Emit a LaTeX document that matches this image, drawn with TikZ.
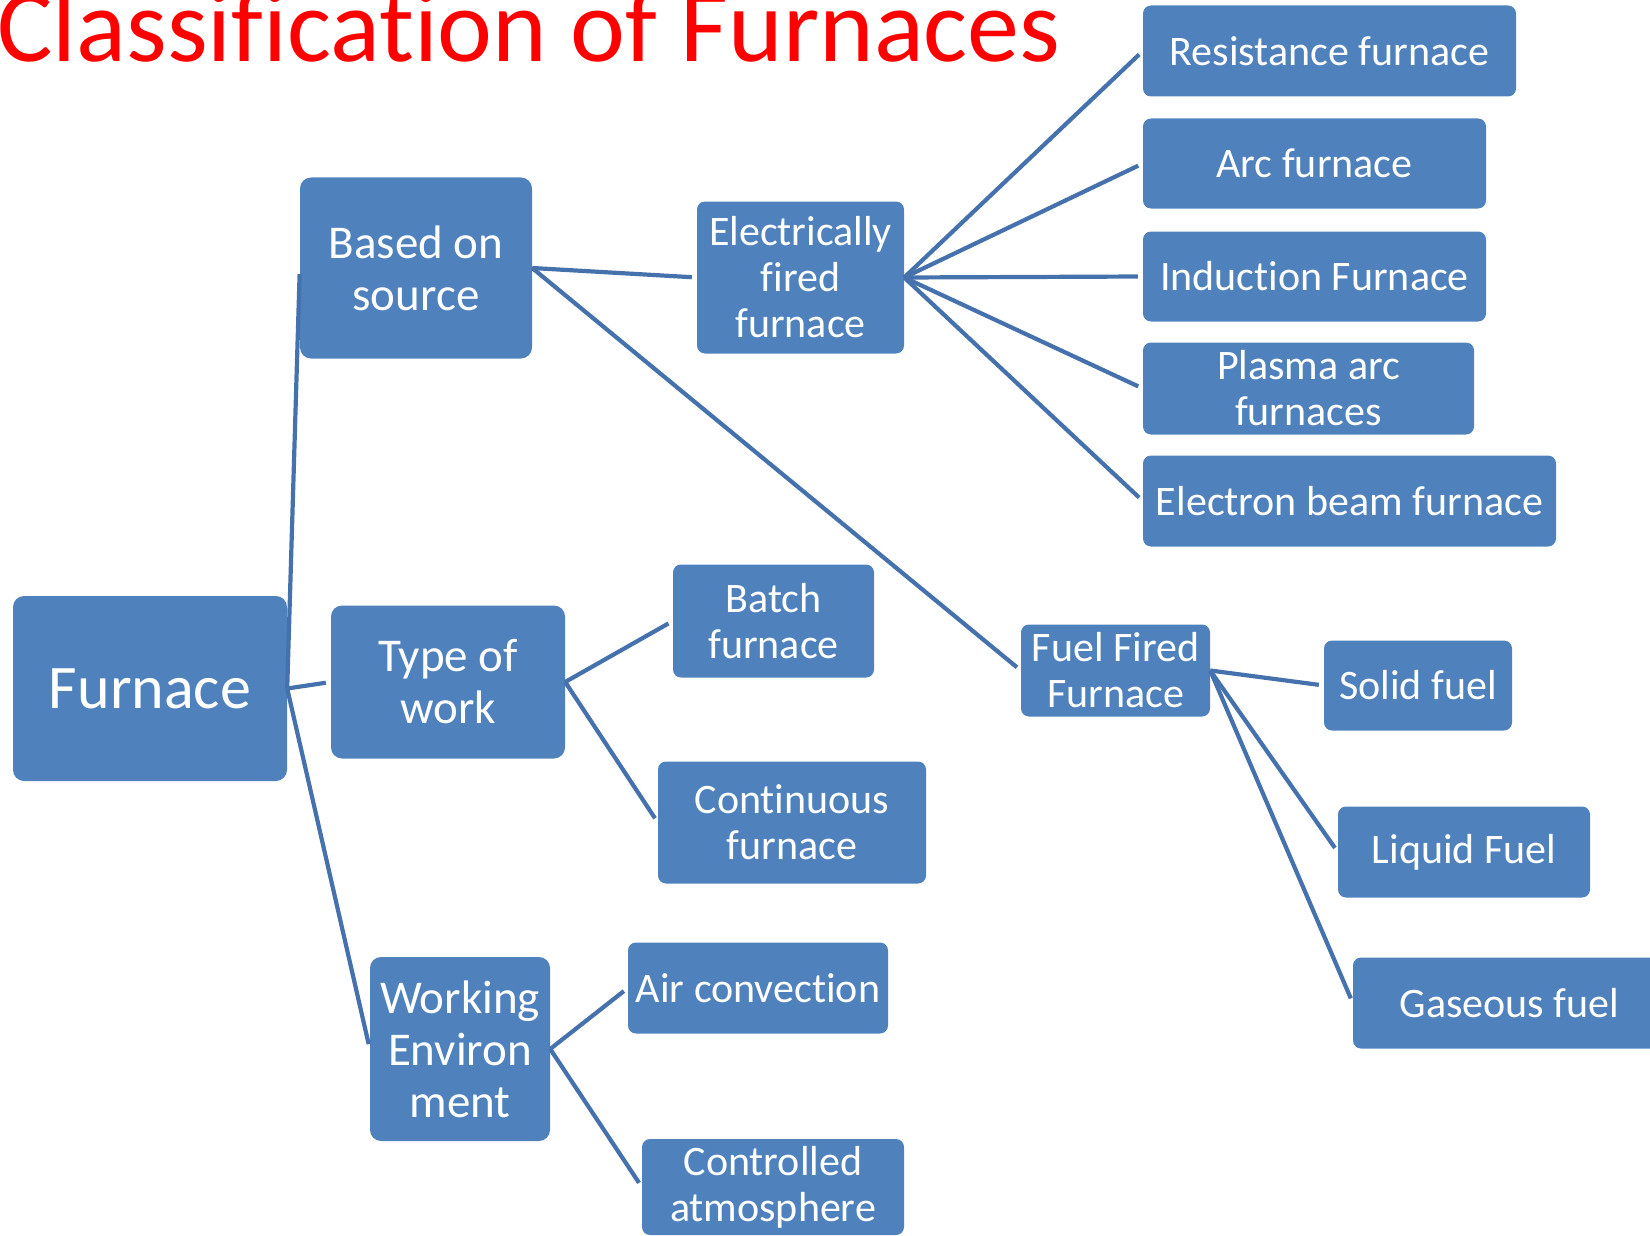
\documentclass[tikz,border=0pt]{standalone}
\usepackage{fontspec}
\setmainfont{Carlito}[Ligatures=NoCommon]
\newcommand{\nolig}{\kern0pt{}}
\definecolor{boxfill}{HTML}{4F81BD}
\definecolor{linec}{HTML}{4571AD}
\definecolor{titlered}{HTML}{FF0000}
\begin{document}
\begin{tikzpicture}[x=1pt,y=-1pt,
  box/.style={fill=boxfill, draw=none, text=white, align=center, inner sep=0pt, rounded corners=8pt},
  bigbox/.style={box, rounded corners=11pt},
  fa/.style={font=\fontsize{42}{46}\selectfont},
  fb/.style={font=\fontsize{47}{52}\selectfont},
  fc/.style={font=\fontsize{62}{68}\selectfont},
  conn/.style={draw=linec, line width=4.2pt, shorten >=5pt, line join=round}
]
\useasboundingbox (0,0) rectangle (1650,1236);
\clip (0,0) rectangle (1650,1236);

% title
\node[anchor=base east, inner sep=0pt, text=titlered, font=\fontsize{104}{110}\selectfont] (title) at (1061,62) {Classif\nolig icat\nolig ion of Furnaces};

% level 1
\node[bigbox, fc, minimum width=274pt, minimum height=185pt] (furnace) at (150,688.5) {Furnace};

% level 2
\node[bigbox, fb, minimum width=232pt, minimum height=181pt] (based) at (416,268) {Based on\\source};
\node[bigbox, fb, minimum width=234pt, minimum height=153pt] (type) at (448,682) {Type of\\work};
\node[bigbox, fb, minimum width=180pt, minimum height=184pt] (work) at (460,1049) {Working\\Environ\\ment};

% level 3
\node[box, fa, minimum width=207pt, minimum height=152pt] (elec) at (800.5,277.5) {Electrically\\f\nolig ired\\furnace};
\node[box, fa, minimum width=189pt, minimum height=92pt] (fuelf) at (1115.5,670.5) {Fuel Fired\\Furnace};
\node[box, fa, minimum width=201pt, minimum height=113pt] (batch) at (773.5,621) {Batch\\furnace};
\node[box, fa, minimum width=268pt, minimum height=122pt] (cont) at (792,822.5) {Cont\nolig inuous\\furnace};
\node[box, fa, minimum width=260pt, minimum height=91pt] (air) at (758,988) {Air convect\nolig ion};
\node[box, fa, minimum width=262pt, minimum height=96pt] (ctrl) at (773,1187) {Controlled\\atmosphere};

% level 4
\node[box, fa, minimum width=373pt, minimum height=91pt] (resist) at (1329.5,51) {Resistance furnace};
\node[box, fa, minimum width=343pt, minimum height=90pt] (arc) at (1314.5,163.5) {Arc furnace};
\node[box, fa, minimum width=343pt, minimum height=90pt] (induct) at (1314.5,276.5) {Induct\nolig ion Furnace};
\node[box, fa, minimum width=331pt, minimum height=92pt] (plasma) at (1308.5,388.5) {Plasma arc\\furnaces};
\node[box, fa, minimum width=413pt, minimum height=91pt] (ebeam) at (1349.5,501) {Electron beam furnace};
\node[box, fa, minimum width=188pt, minimum height=90pt] (solid) at (1418,685.5) {Solid fuel};
\node[box, fa, minimum width=252pt, minimum height=91pt] (liquid) at (1464,852) {Liquid Fuel};
\node[box, fa, minimum width=313pt, minimum height=91pt] (gas) at (1509.5,1003) {Gaseous fuel};

% connectors
\draw[conn, shorten >=6pt] (furnace.east) -- (based.west);
\draw[conn] (furnace.east) -- (type.west);
\draw[conn] (furnace.east) -- (work.west);

\draw[conn] (based.east) -- (elec.west);
\draw[conn] (based.east) -- (fuelf.west);

\draw[conn] (elec.east) -- (resist.west);
\draw[conn] (elec.east) -- (arc.west);
\draw[conn] (elec.east) -- (induct.west);
\draw[conn] (elec.east) -- (plasma.west);
\draw[conn] (elec.east) -- (ebeam.west);

\draw[conn] (fuelf.east) -- (solid.west);
\draw[conn] (fuelf.east) -- (liquid.west);
\draw[conn] (fuelf.east) -- (gas.west);

\draw[conn] (type.east) -- (batch.west);
\draw[conn] (type.east) -- (cont.west);

\draw[conn] (work.east) -- (air.west);
\draw[conn] (work.east) -- (ctrl.west);
\end{tikzpicture}
\end{document}
